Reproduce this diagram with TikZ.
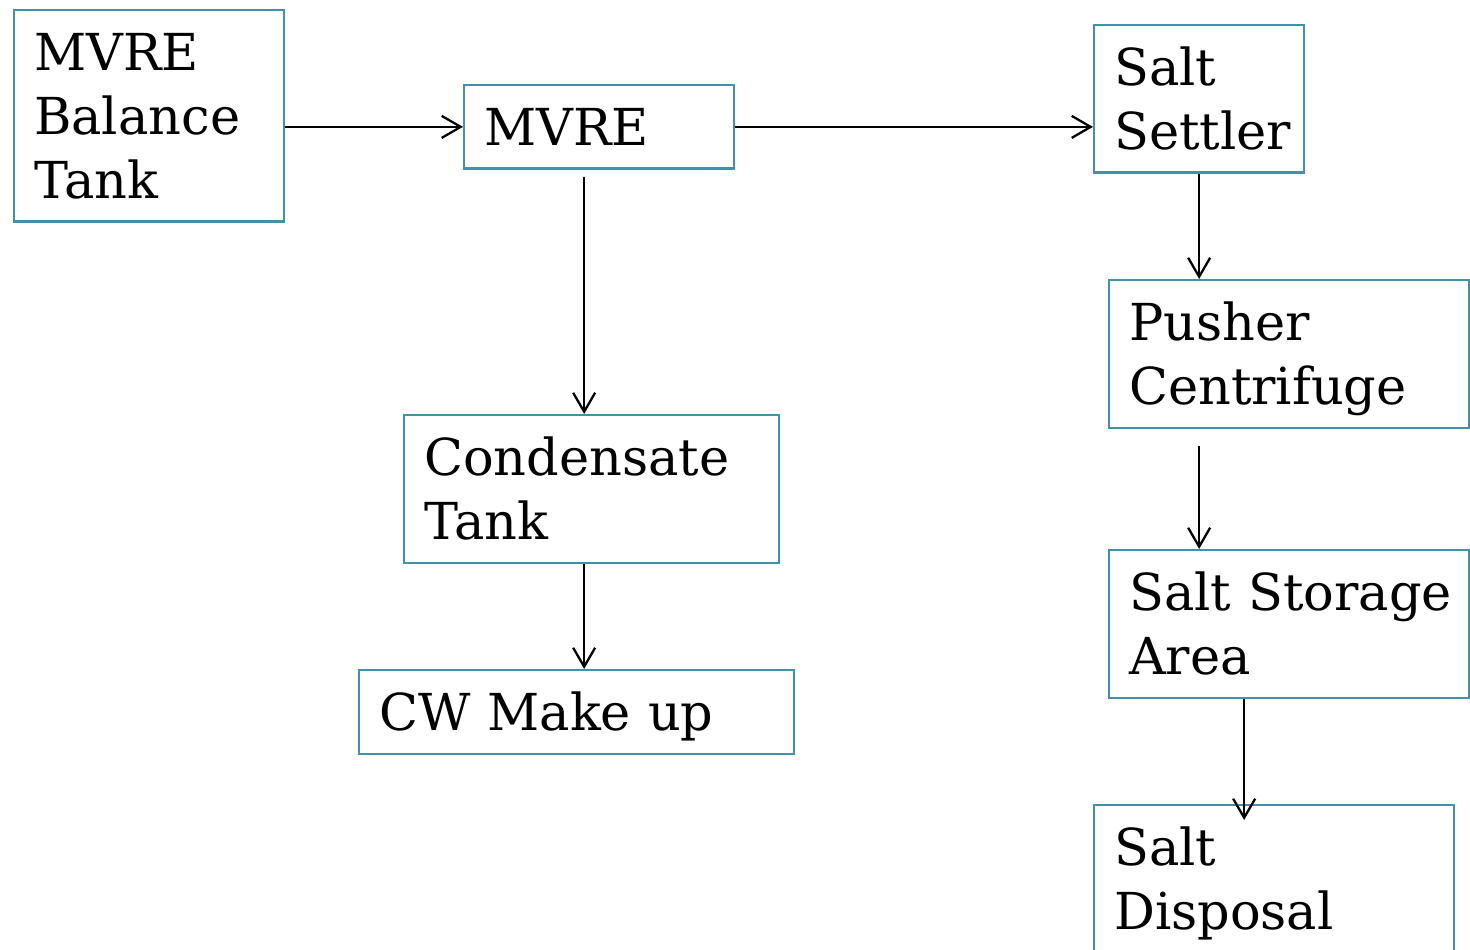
\documentclass[tikz,border=0pt]{standalone}
\usepackage{fontspec}
\setmainfont{DejaVu Serif}
\usetikzlibrary{arrows.meta, calc, positioning}
\definecolor{boxteal}{RGB}{62,146,170}

\begin{document}
\begin{tikzpicture}[>={Straight Barb[length=3.8mm, width=4.4mm]},
  font=\fontsize{29}{36.4}\selectfont,
  box/.style={draw=boxteal, line width=1.3pt, anchor=north west, align=left,
    inner xsep=0.4cm, inner ysep=0.46cm, text height=0.75cm},
  flow/.style={->, line width=1.3pt}]
  \useasboundingbox (0,0) rectangle (29.4,-19);
  \clip (0,0) rectangle (29.4,-19);

  % left column
  \node[box, text width=4.6cm, text depth=2.56cm] at (0.26,-0.18) (bal) {MVRE\\Balance\\Tank};
  \node[box, text width=4.6cm, text depth=0cm] at (9.26,-1.68) (mvre) {MVRE};
  \node[box, text width=6.7cm, text depth=1.28cm] at (8.06,-8.28) (cond) {Condensate\\Tank};
  \node[box, text width=7.9cm, text depth=0cm] at (7.16,-13.38) (cw) {CW Make up};

  % right column
  \node[box, text width=3.4cm, text depth=1.28cm] at (21.86,-0.48) (settler) {Salt\\Settler};
  \node[box, text width=6.4cm, text depth=1.28cm] at (22.16,-5.58) (pusher) {Pusher\\Centrifuge};
  \node[box, text width=6.4cm, text depth=1.28cm] at (22.16,-10.98) (storage) {\mbox{Salt Storage}\\Area};
  \node[box, text width=6.4cm, text depth=1.28cm] at (21.86,-16.08) (disposal) {Salt\\Disposal};

  \draw[flow] (bal.east |- mvre.west) -- (mvre.west);
  \draw[flow] (mvre.east) -- (mvre.east -| settler.west);
  \draw[flow] ([xshift=-0.3cm, yshift=-0.14cm]mvre.south) -- ([xshift=-0.3cm]mvre.south |- cond.north);
  \draw[flow] ([xshift=-0.15cm]cond.south) -- ([xshift=-0.15cm]cond.south |- cw.north);

  \draw[flow] (settler.south) -- (settler.south |- pusher.north);
  \draw[flow] ([yshift=-0.34cm]settler.south |- pusher.south) -- (settler.south |- storage.north);
  \draw[flow] ([xshift=-0.9cm]storage.south) -- ([xshift=-0.9cm, yshift=-0.32cm]storage.south |- disposal.north);
\end{tikzpicture}
\end{document}
